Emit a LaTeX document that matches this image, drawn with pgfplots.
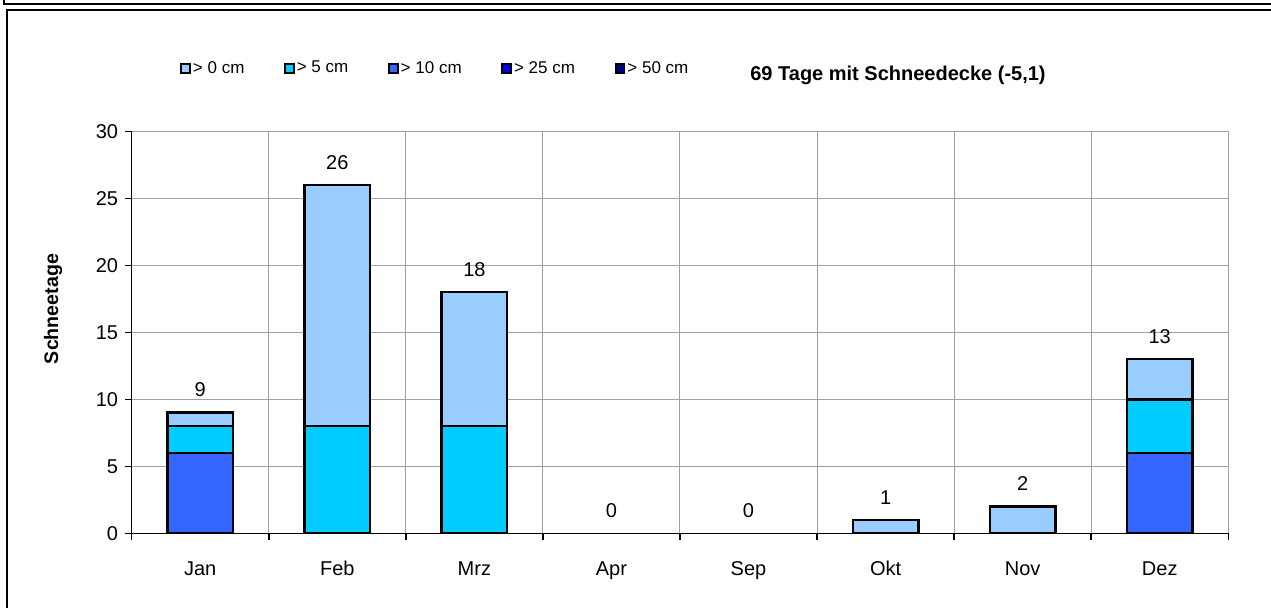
\documentclass[border=0pt]{standalone}
\usepackage{fontspec}
\setmainfont{Liberation Sans}
\usepackage{pgfplots}
\pgfplotsset{compat=1.18}
\pgfplotsset{/pgf/number format/assume math mode=true}
\definecolor{cA}{HTML}{99CCFF}
\definecolor{cB}{HTML}{00CCFF}
\definecolor{cC}{HTML}{3366FF}
\definecolor{cD}{HTML}{0000FF}
\definecolor{cE}{HTML}{000080}
\definecolor{gridgray}{HTML}{A0A0A0}
\begin{document}
\begin{tikzpicture}
\useasboundingbox (0,0) rectangle (635.5pt,303.5pt);
\fill[white] (0,0) rectangle (635.5pt,303.5pt);
% frames
\draw[line width=1pt] (2pt,303.5pt) -- (2pt,301.5pt) -- (640pt,301.5pt);
\draw[line width=1pt] (3.5pt,-5pt) -- (3.5pt,298.5pt) -- (640pt,298.5pt);
\begin{axis}[
  scale only axis, width=548.3pt, height=201pt,
  at={(65.85pt,36.85pt)}, anchor=south west,
  xmin=-0.5, xmax=7.5, ymin=0, ymax=30,
  xtick={-0.5,0.5,...,7.5},
  xticklabels={Jan,Feb,Mrz,Apr,Sep,Okt,Nov,Dez},
  x tick label as interval,
  ytick={0,5,...,30},
  grid=major,
  major grid style={draw=gridgray, line width=0.5pt},
  axis x line*=bottom, axis y line*=left,
  axis line style={line width=0.75pt, black},
  tick align=outside, major tick length=3.3pt,
  tick style={black, line width=0.75pt},
  tick label style={font=\fontsize{10}{12}\selectfont},
  xticklabel style={text height=7.6pt, text depth=0pt, yshift=-6.5pt},
  legend image code/.code={\draw[#1, line width=0.9pt] (0pt,-2.2pt) rectangle (4.4pt,2.2pt);},
  legend columns=5,
  legend style={draw=none, fill=none, at={(axis description cs:0.044,1.156)}, anchor=west,
    font=\fontsize{8.5}{10}\selectfont, inner sep=0pt,
    nodes={inner sep=0.5pt},
    /tikz/every odd column/.append style={column sep=0.5pt},
    /tikz/every even column/.append style={column sep=19.4pt}},
]
\addplot[ybar, bar width=32.8pt, bar shift=0pt, fill=cA, draw=black, line width=1.25pt, forget plot]
  coordinates {(0,9) (1,26) (2,18) (5,1) (6,2) (7,13)};
\addplot[ybar, bar width=32.8pt, bar shift=0pt, fill=cB, draw=black, line width=1.25pt, forget plot]
  coordinates {(0,8) (1,8) (2,8) (7,10)};
\addplot[ybar, bar width=32.8pt, bar shift=0pt, fill=cC, draw=black, line width=1.25pt, forget plot]
  coordinates {(0,6) (7,6)};
\addplot[ybar, bar width=32.8pt, bar shift=0pt, draw=none, fill=none, forget plot,
  nodes near coords,
  nodes near coords style={font=\fontsize{10}{12}\selectfont, anchor=center, yshift=11.3pt, black}]
  coordinates {(0,9) (1,26) (2,18) (3,0) (4,0) (5,1) (6,2) (7,13)};
\addlegendimage{fill=cA, draw=black}
\addlegendentry{> 0 cm}
\addlegendimage{fill=cB, draw=black}
\addlegendentry{> 5 cm}
\addlegendimage{fill=cC, draw=black}
\addlegendentry{> 10 cm}
\addlegendimage{fill=cD, draw=black}
\addlegendentry{> 25 cm}
\addlegendimage{fill=cE, draw=black}
\addlegendentry{> 50 cm}
\end{axis}
\node[font=\bfseries\fontsize{10}{12}\selectfont] at (449pt,266pt) {69 Tage mit Schneedecke (-5,1)};
\node[font=\bfseries\fontsize{9.8}{12}\selectfont, rotate=90] at (26.5pt,149pt) {Schneetage};
\end{tikzpicture}
\end{document}
